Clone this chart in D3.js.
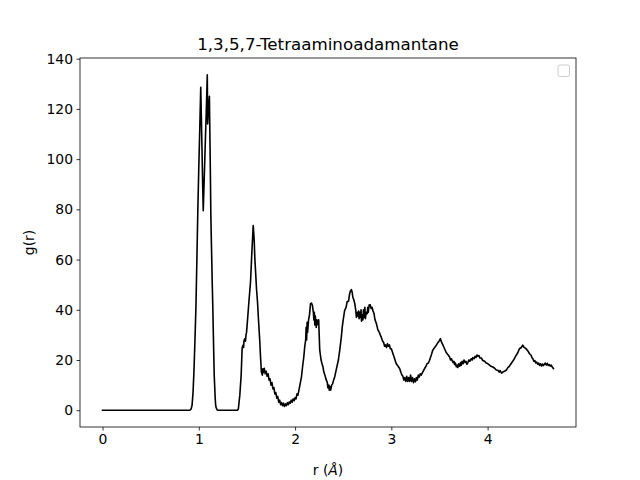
<!DOCTYPE html>
<html>
<head>
<meta charset="utf-8">
<script src="https://cdn.jsdelivr.net/npm/d3@7"></script>
<style>
html,body{margin:0;padding:0;background:#fff;}
svg{display:block;font-family:"DejaVu Sans",sans-serif;}
</style>
</head>
<body>
<svg id="chart" width="640" height="480"></svg>
<script>
const title = "1,3,5,7-Tetraaminoadamantane";
const xTicks = [0, 1, 2, 3, 4];
const yTicks = [0, 20, 40, 60, 80, 100, 120, 140];

const rValues = [
0.00,0.10,0.20,0.30,0.40,0.50,0.60,0.70,0.80,0.90,0.91,0.92,0.93,0.94,0.95,0.96,0.97,0.98,0.99,1.00,1.01,1.02,1.03,1.04,1.046,1.06,1.07,1.08,1.088,1.092,1.10,1.11,1.12,1.125,1.13,1.14,1.146,1.15,1.16,1.17,1.175,1.18,1.19,1.20,
1.30,1.40,1.41,1.426,1.44,1.45,1.46,1.465,1.47,1.48,1.485,1.49,1.496,1.51,1.52,1.537,1.55,1.565,1.575,1.582,1.59,1.60,1.61,1.62,1.634,1.64,
1.65,1.66,1.665,1.67,1.68,1.69,1.70,1.71,1.72,1.73,1.74,1.75,1.76,1.77,1.78,1.79,1.80,1.81,1.82,1.83,1.84,1.85,1.86,1.87,1.88,1.89,1.90,1.91,1.92,1.93,1.94,1.95,1.96,1.97,1.98,1.99,2.00,2.01,2.02,2.03,2.04,2.05,2.066,
2.08,2.09,2.10,2.11,2.115,2.12,2.125,2.13,2.14,2.15,2.16,2.17,2.18,2.19,2.195,2.20,2.205,2.21,2.22,2.225,2.23,2.24,2.245,2.25,2.256,2.27,2.28,2.29,2.30,2.31,2.32,2.326,2.335,2.34,2.35,2.355,2.36,2.37,2.38,2.39,2.40,
2.41,2.43,2.45,2.464,2.48,2.49,2.50,2.515,2.53,2.54,2.555,2.567,2.575,2.585,2.593,2.60,2.61,2.62,2.63,2.637,2.645,2.65,2.66,2.665,2.67,2.68,2.685,2.69,2.70,2.705,2.71,2.72,2.725,2.73,2.74,2.75,2.755,2.76,2.77,2.775,2.78,2.79,2.80,2.81,2.82,2.83,2.845,2.86,2.875,2.885,2.896,2.91,2.92,2.93,2.94,2.95,2.96,2.97,2.98,2.99,3.00,
3.017,3.03,3.05,3.07,3.086,3.10,3.11,3.12,3.13,3.14,3.15,3.16,3.17,3.18,3.19,3.20,3.21,3.22,3.23,3.24,3.25,3.26,3.27,3.28,3.29,3.30,3.31,3.33,3.345,3.36,3.37,3.385,3.397,3.415,3.43,3.45,3.467,3.485,3.50,3.51,3.52,3.535,3.553,3.57,3.59,
3.605,3.615,3.625,3.64,3.65,3.657,3.665,3.675,3.685,3.69,3.70,3.71,3.72,3.726,3.735,3.745,3.755,3.765,3.775,3.785,3.795,3.805,3.815,3.83,3.84,3.847,3.86,3.87,3.88,3.89,3.90,3.91,3.92,3.935,3.95,3.97,3.985,
4.00,4.02,4.035,4.054,4.07,4.09,4.106,4.12,4.13,4.145,4.158,4.175,4.193,4.21,4.225,4.245,4.27,4.297,4.315,4.33,4.35,4.365,4.38,4.40,4.42,4.435,4.452,4.46,4.47,4.48,4.49,4.50,4.51,4.52,4.53,4.54,4.55,4.56,4.57,4.58,4.59,4.60,4.61,4.62,4.63,4.64,4.65,4.66,4.67,4.684
];

const gValues = [
0,0,0,0,0,0,0,0,0,0,0.1,0.5,2,7,16,28,41,60,80,97,112,128.6,110,90,79.5,97,110,122,133.6,114,120,125,95,78,68,50,40,32,14,5,2,1,0.2,0,
0,0,0.3,6,14,24.7,26,25,27.8,28.5,27.5,30,31,38,43,51,62,73.6,68,60.5,55,48,43,36,27,22,
15.2,14,16.5,15,16.7,14.5,15.5,13.5,14.5,12,12.5,10,11,8.5,9,6.5,7,4.8,5.5,3.2,4,2.2,3,1.8,2.8,1.5,2.5,1.8,3,2.2,3.3,2.8,4,3.2,4.5,3.8,5,4.5,6.5,6,8,10,13.2,
18,21,25.2,28,33,28,35,31,36,38,42.4,42.7,41.8,39,36,39,34,37.5,33,36,35.8,34,36,30.5,24,20,18.5,17.2,15,14,12.5,11.9,11,9,10,8,9.5,8,10,10.5,12,
13,16.6,20,23.9,29,33.1,36,39.8,41,43.1,43.5,46.4,47.5,48,47,45,44,42.5,40,37,39,37.5,39.5,36.5,39,37,40,35.5,38,36,40,37,41,36.5,39,38.5,41,39,42,41.5,42,40.5,41,39.5,38.5,36,34.5,32,31,30,29,27.5,27,25.5,26,25,26.5,25.5,26,24.5,24.5,
22.5,21,18.6,17.5,16.6,15,14,13.5,12,13,11.5,13.5,11.5,13,11.5,14,11.5,13,11,12.5,11.3,13,12,14,13.2,14.5,14,15.5,16.6,17.5,18.5,18.8,19.9,22,23.9,25,25.9,27,27.8,28.5,27.2,26,24.5,23,22,
21.2,20,20.5,19,19.5,18.2,18.8,17.3,18,17,18.5,17.5,19,17.9,19.5,18.5,20,19,19.5,18.3,19,20,19.5,20.5,20,21,20.5,21.5,21,22,21.5,21.8,20.8,20.8,19.8,19.5,18.8,
18.6,18,17.5,17.2,16.8,16,15.9,15.2,15.8,14.8,15.2,15.5,15.9,17,17.5,18.6,20,21.9,23,24.5,25,25.9,25,24.5,23.5,22.5,21.9,21,20.5,19.5,19.8,18.8,19.2,18.3,18.8,17.8,18.5,17.6,18.4,17.8,18.3,18.8,18,18.7,17.8,18.2,17.6,18,17.3,16.6
];

const data = rValues.map((r, i) => ({r: r, g: gValues[i]}));

const svg = d3.select("#chart");
const L = 80, R = 576, T = 58, B = 427;

const xExt = d3.extent(rValues), yExt = d3.extent(gValues);
const xPad = (xExt[1] - xExt[0]) * 0.05, yPad = (yExt[1] - yExt[0]) * 0.05;
const x = d3.scaleLinear().domain([xExt[0] - xPad, xExt[1] + xPad]).range([L, R]);
const y = d3.scaleLinear().domain([yExt[0] - yPad, yExt[1] + yPad]).range([B, T]);

const line = d3.line().x(d => x(d.r)).y(d => y(d.g));
svg.append("path").datum(data)
  .attr("d", line)
  .attr("fill", "none")
  .attr("stroke", "#000")
  .attr("stroke-width", 1.6)
  .attr("stroke-linejoin", "round")
  .attr("stroke-linecap", "square");

const xAxis = d3.axisBottom(x).tickValues(xTicks).tickFormat(d3.format("d")).tickSizeInner(3.5).tickSizeOuter(0).tickPadding(3.5);
const yAxis = d3.axisLeft(y).tickValues(yTicks).tickFormat(d3.format("d")).tickSizeInner(3.5).tickSizeOuter(0).tickPadding(3.5);

const gx = svg.append("g").attr("transform", `translate(0,${B})`).call(xAxis);
const gy = svg.append("g").attr("transform", `translate(${L},0)`).call(yAxis);
[gx, gy].forEach(g => {
  g.select(".domain").remove();
  g.selectAll(".tick line").attr("stroke", "#000").attr("stroke-width", 0.8);
  g.selectAll(".tick text").attr("fill", "#000")
    .style("font-family", "DejaVu Sans").style("font-size", "13.9px");
});

// frame
svg.append("rect").attr("x", L).attr("y", T).attr("width", R - L).attr("height", B - T)
  .attr("fill", "none").attr("stroke", "#000").attr("stroke-width", 0.8);

// title
svg.append("text").attr("x", (L + R) / 2).attr("y", 49.5)
  .attr("text-anchor", "middle").style("font-size", "16.7px").attr("fill", "#000")
  .text(title);

// x label
const xl = svg.append("text").attr("x", (L + R) / 2).attr("y", 475)
  .attr("text-anchor", "middle").style("font-size", "13.9px").attr("fill", "#000");
xl.append("tspan").text("r (");
xl.append("tspan").style("font-style", "italic").text("Å");
xl.append("tspan").text(")");

// y label
svg.append("text").attr("transform", `translate(34,${(T + B) / 2}) rotate(-90)`)
  .attr("text-anchor", "middle").style("font-size", "13.9px").attr("fill", "#000")
  .text("g(r)");

// empty legend
svg.append("rect").attr("x", 558).attr("y", 65).attr("width", 11.5).attr("height", 11.5)
  .attr("rx", 2).attr("fill", "#fff").attr("fill-opacity", 0.8)
  .attr("stroke", "#cccccc").attr("stroke-width", 1);
</script>
</body>
</html>
